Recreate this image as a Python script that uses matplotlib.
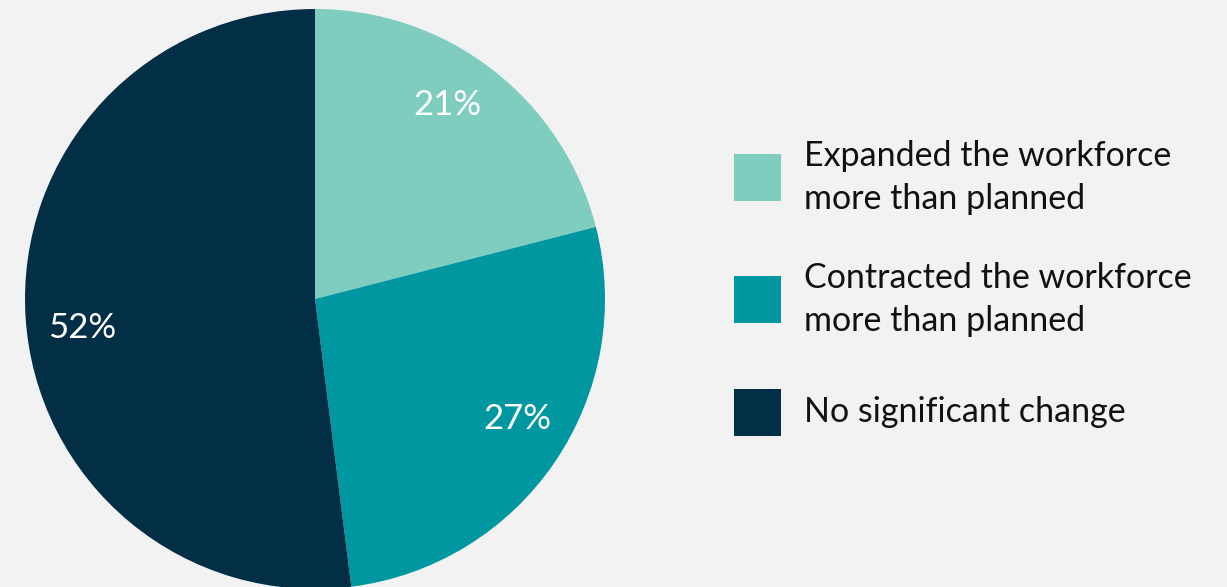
import matplotlib
matplotlib.use("Agg")
import numpy as np
import matplotlib.pyplot as plt
from matplotlib.patches import Rectangle

categories = ["Expanded the workforce\nmore than planned",
              "Contracted the workforce\nmore than planned",
              "No significant change"]
shares = [21, 27, 52]
colors = ["#7ECDBE", "#0097A0", "#022F45"]
background = "#F2F2F2"

plt.rcParams["font.family"] = ["Lato", "DejaVu Sans"]

W, H = 1227, 587
fig = plt.figure(figsize=(W / 100, H / 100), dpi=100, facecolor=background)

# pie centred at (315, 299) px with a 290 px radius
cx, cy, r = 315, 299, 290
ax = fig.add_axes([(cx - r) / W, (H - cy - r) / H, 2 * r / W, 2 * r / H])
ax.set_facecolor(background)
wedges, _ = ax.pie(
    shares, colors=colors, startangle=90, counterclock=False,
    radius=1, wedgeprops=dict(linewidth=0),
)

# percentage labels, set a little counter-clockwise of each wedge's middle
label_r, label_shift = 0.81, 3.5
for w, s in zip(wedges, shares):
    mid = np.deg2rad((w.theta1 + w.theta2) / 2 + label_shift)
    ax.text(label_r * np.cos(mid), label_r * np.sin(mid), f"{s}%",
            color="white", fontsize=25, ha="center", va="center")

ax.set_xlim(-1, 1)
ax.set_ylim(-1, 1)
ax.set_aspect("equal")
ax.axis("off")

# legend: swatches and labels placed in pixel coordinates
sw_x, sw_size = 734, 47
sw_tops = [154, 276, 389]
for top, color, label in zip(sw_tops, colors, categories):
    fig.add_artist(Rectangle((sw_x / W, (H - top - sw_size) / H),
                             sw_size / W, sw_size / H,
                             transform=fig.transFigure, facecolor=color,
                             edgecolor="none"))
    fig.text(804 / W, (H - top - sw_size / 2) / H, label,
             fontsize=24.5, color="#111111", va="center", ha="left",
             linespacing=1.4)

fig.savefig("out.png", dpi=100, facecolor=background)
